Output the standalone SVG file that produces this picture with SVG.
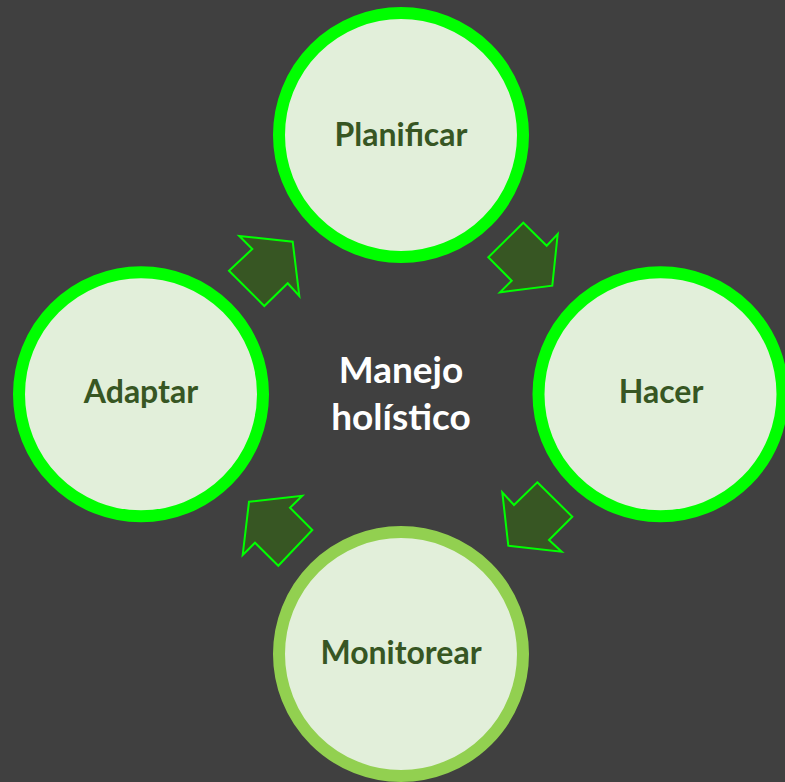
<svg xmlns="http://www.w3.org/2000/svg" width="785" height="782" viewBox="0 0 785 782">
<style>
.bg{fill:#404040}
.node circle{fill:#E2EFDA;stroke:#00FF00;stroke-width:12}
.node text{font-family:Lato,"Open Sans","Liberation Sans",sans-serif;font-weight:bold;font-size:32px;fill:#375623;text-anchor:middle}
.arrow{fill:#375623;stroke:#00FF00;stroke-width:2;stroke-linejoin:miter}
.center{font-family:Lato,"Open Sans","Liberation Sans",sans-serif;font-weight:bold;font-size:37px;fill:#FFFFFF;text-anchor:middle}
</style>
<rect class="bg" x="0" y="0" width="785" height="782"/>
<g id="connectors">
<polygon class="arrow" points="239.3,236 292.7,241.7 299.3,296 287.7,283.3 264.3,306 229,270.7 252.3,249"/>
<polygon class="arrow" points="523.3,222.7 546.7,245.7 557.7,234 552.3,285.7 500,292.3 511.7,280.7 488.3,257.3"/>
<polygon class="arrow" points="537.3,482.3 572.3,516.7 549,540 561.7,551.7 508.3,545.7 502.3,492.3 514,505"/>
<polygon class="arrow" points="249,501.7 302.3,495.7 290,507.7 312.3,530 278.3,565.7 255,542.7 242.7,555"/>
</g>
<g id="planificar" class="node">
<circle cx="401" cy="135" r="122"/>
<text x="401" y="146">Planificar</text>
</g>
<g id="hacer" class="node">
<circle cx="660.5" cy="394.3" r="122"/>
<text x="661" y="403">Hacer</text>
</g>
<g id="monitorear" class="node">
<circle cx="401" cy="654" r="122" style="stroke:#92D050"/>
<text x="401" y="664">Monitorear</text>
</g>
<g id="adaptar" class="node">
<circle cx="141" cy="394.3" r="122"/>
<text x="141" y="403">Adaptar</text>
</g>
<g id="center-label">
<text class="center" x="401" y="383">Manejo</text>
<text class="center" x="401" y="430">holístico</text>
</g>
</svg>
